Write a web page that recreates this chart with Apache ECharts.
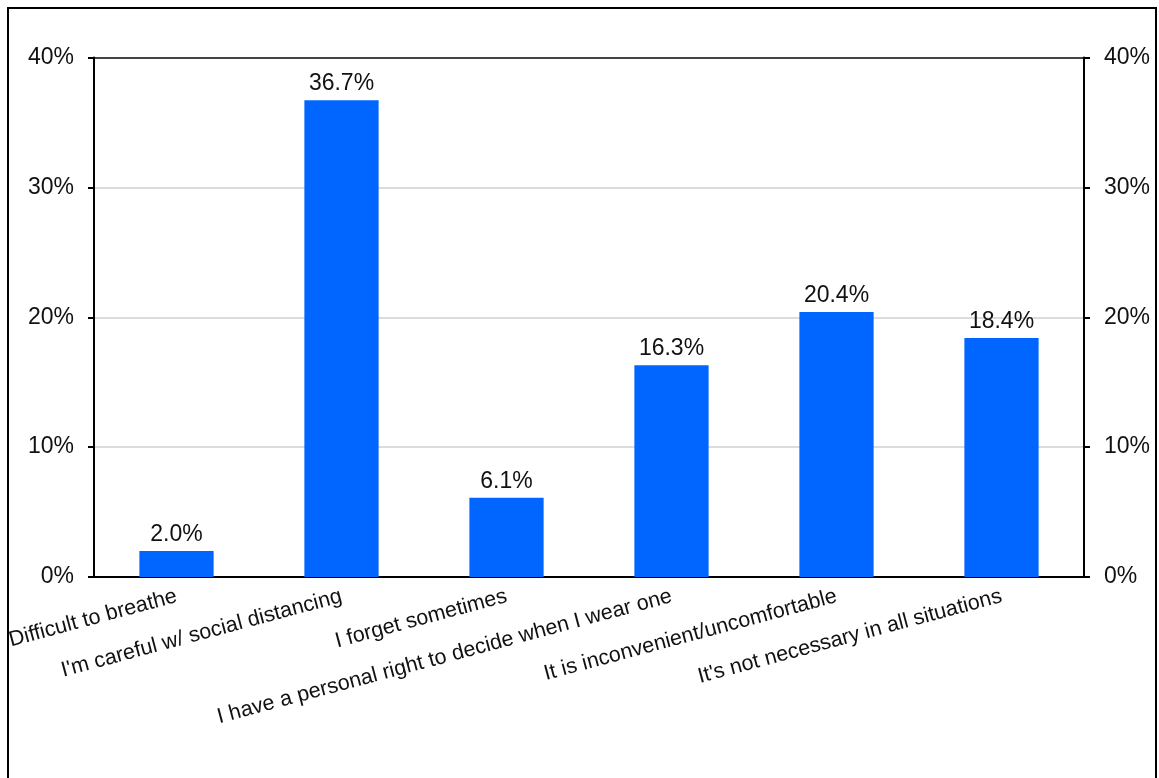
<!DOCTYPE html>
<html>
<head>
<meta charset="utf-8">
<script src="https://cdn.jsdelivr.net/npm/echarts@6/dist/echarts.min.js"></script>
<style>
  html, body { margin: 0; padding: 0; background: #fff; }
  #chart { width: 1159px; height: 778px; }
</style>
</head>
<body>
<div id="chart"></div>
<script>
// Reasons given for not wearing a mask, share of respondents (%)
const categories = [
  'Difficult to breathe',
  "I'm careful w/ social distancing",
  'I forget sometimes',
  'I have a personal right to decide when I wear one',
  'It is inconvenient/uncomfortable',
  "It's not necessary in all situations"
];
const shares = [2.0, 36.7, 6.1, 16.3, 20.4, 18.4];
const axisMin = 0;
const axisMax = 40;
const axisStep = 10;

const font = '"Liberation Sans", Arial, sans-serif';

const valueAxis = (position, showGrid) => ({
  type: 'value',
  position: position,
  min: axisMin,
  max: axisMax,
  interval: axisStep,
  axisLine: { show: true, lineStyle: { color: '#000', width: 2 } },
  axisTick: { show: true, inside: false, length: 6, lineStyle: { color: '#000', width: 2 } },
  axisLabel: {
    formatter: '{value}%',
    color: '#111',
    fontFamily: font,
    fontSize: 23,
    margin: 20
  },
  splitLine: showGrid ? {
    show: true,
    lineStyle: { color: ['#dcdcdc', '#dcdcdc', '#dcdcdc', '#dcdcdc', '#444'], width: 2 }
  } : { show: false }
});

const chart = echarts.init(document.getElementById('chart'), null, { renderer: 'canvas' });
chart.setOption({
  animation: false,
  backgroundColor: '#fff',
  grid: { left: 94, right: 75, top: 57.5, bottom: 201, containLabel: false },
  xAxis: {
    type: 'category',
    data: categories,
    axisLine: { show: true, lineStyle: { color: '#000', width: 2 } },
    axisTick: { show: false },
    axisLabel: {
      interval: 0,
      rotate: 15,
      margin: 19,
      color: '#111',
      fontFamily: font,
      fontSize: 21.5
    }
  },
  yAxis: [valueAxis('left', true), valueAxis('right', false)],
  series: [{
    type: 'bar',
    data: shares,
    barWidth: '45%',
    itemStyle: { color: '#0066ff' },
    label: {
      show: true,
      position: 'top',
      distance: 5,
      color: '#111',
      fontFamily: font,
      fontSize: 23,
      formatter: p => p.value.toFixed(1) + '%'
    }
  }],
  graphic: [{
    type: 'rect',
    shape: { x: 8, y: 8, width: 1148, height: 800 },
    style: { fill: 'none', stroke: '#000', lineWidth: 2 },
    silent: true,
    z: 10
  }]
});
</script>
</body>
</html>
